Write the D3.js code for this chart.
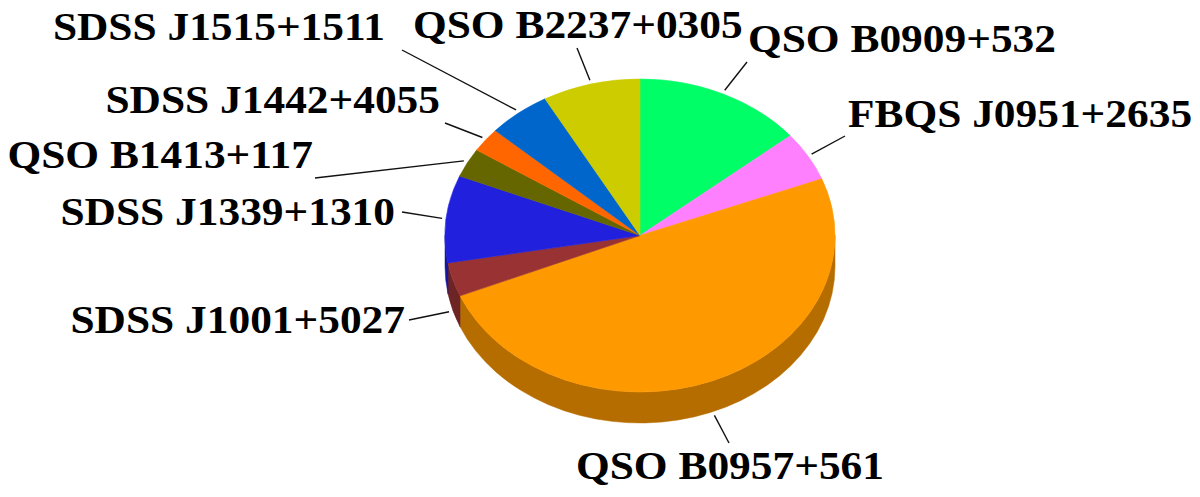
<!DOCTYPE html>
<html>
<head>
<meta charset="utf-8">
<script src="https://cdn.jsdelivr.net/npm/d3@7/dist/d3.min.js"></script>
<style>
  html, body { margin: 0; padding: 0; background: #fff; }
  svg { display: block; }
  text { font-family: "Liberation Serif", "Times New Roman", serif; font-weight: bold; }
</style>
</head>
<body>
<svg id="chart" width="1200" height="497"></svg>
<script>
// ---- data ----
const categories = ["QSO B0909+532", "FBQS J0951+2635", "QSO B0957+561", "SDSS J1001+5027",
  "SDSS J1339+1310", "QSO B1413+117", "SDSS J1442+4055", "SDSS J1515+1511", "QSO B2237+0305"];
const values = [14.0, 5.1, 49.6, 3.5, 9.0, 3.0, 2.5, 5.2, 8.1];
const colors = ["#00ff66", "#ff80ff", "#ff9900", "#993333", "#2020dd", "#666600", "#ff6600", "#0066cc", "#cccc00"];

// ---- label layout (positions of text and leader-line outer ends) ----
const labelX      = [748, 848, 576, 405, 395, 313, 440, 385, 413];
const labelY      = [52, 127, 479, 333, 225, 168, 113, 40, 38];
const labelAnchor = ["start", "start", "start", "end", "end", "end", "end", "end", "start"];
const lineEndX    = [747, 845, 729, 409, 402, 315, 445, 402, 577];
const lineEndY    = [62, 136, 443, 320, 212, 178, 123, 50, 48];

// ---- geometry ----
const cx = 640, cy = 235.5, rx = 195, ry = 156.5, depth = 31;
const svg = d3.select("#chart");

const pie = d3.pie().sort(null).value(d => d.v);
const arcs = pie(categories.map((c, i) => ({ c, v: values[i], col: colors[i], i })));

const P = (t, ex = 0, ey = 0) => [cx + (rx + ex) * Math.sin(t), cy - (ry + ey) * Math.cos(t)];

function topPath(a) {
  const s = P(a.startAngle), e = P(a.endAngle);
  const large = (a.endAngle - a.startAngle) > Math.PI ? 1 : 0;
  return `M${cx},${cy}L${s[0]},${s[1]}A${rx},${ry} 0 ${large} 1 ${e[0]},${e[1]}Z`;
}
function sidePath(s0, e0) {
  const s = P(s0), e = P(e0);
  const large = (e0 - s0) > Math.PI ? 1 : 0;
  return `M${s[0]},${s[1]}A${rx},${ry} 0 ${large} 1 ${e[0]},${e[1]}` +
         `L${e[0]},${e[1] + depth}A${rx},${ry} 0 ${large} 0 ${s[0]},${s[1] + depth}Z`;
}

// sides (only the front half, angles between PI/2 and 3PI/2)
const gSide = svg.append("g");
arcs.forEach(a => {
  const s0 = Math.max(a.startAngle, Math.PI / 2), e0 = Math.min(a.endAngle, 3 * Math.PI / 2);
  if (e0 > s0) {
    const col = d3.color(a.data.col).darker(0.95);
    gSide.append("path").attr("d", sidePath(s0, e0)).attr("fill", col).attr("stroke", col).attr("stroke-width", 0.5);
  }
});

// tops
svg.append("g").selectAll("path").data(arcs).join("path")
  .attr("d", topPath)
  .attr("fill", d => d.data.col)
  .attr("stroke", d => d.data.col)
  .attr("stroke-width", 0.6);

// leader lines
const gLines = svg.append("g");
arcs.forEach((a, i) => {
  const m = (a.startAngle + a.endAngle) / 2;
  const p = P(m, 4, 4);
  const front = m > Math.PI / 2 && m < 3 * Math.PI / 2;
  gLines.append("line")
    .attr("x1", p[0]).attr("y1", p[1] + (front ? depth : 0))
    .attr("x2", lineEndX[i]).attr("y2", lineEndY[i])
    .attr("stroke", "#111").attr("stroke-width", 1.4);
});

// labels
svg.append("g").selectAll("text").data(categories).join("text")
  .attr("transform", (d, i) => `translate(${labelX[i]},${labelY[i]}) scale(1.085,1)`)
  .attr("text-anchor", (d, i) => labelAnchor[i])
  .attr("font-size", 40)
  .attr("fill", "#000")
  .text(d => d);
</script>
</body>
</html>
